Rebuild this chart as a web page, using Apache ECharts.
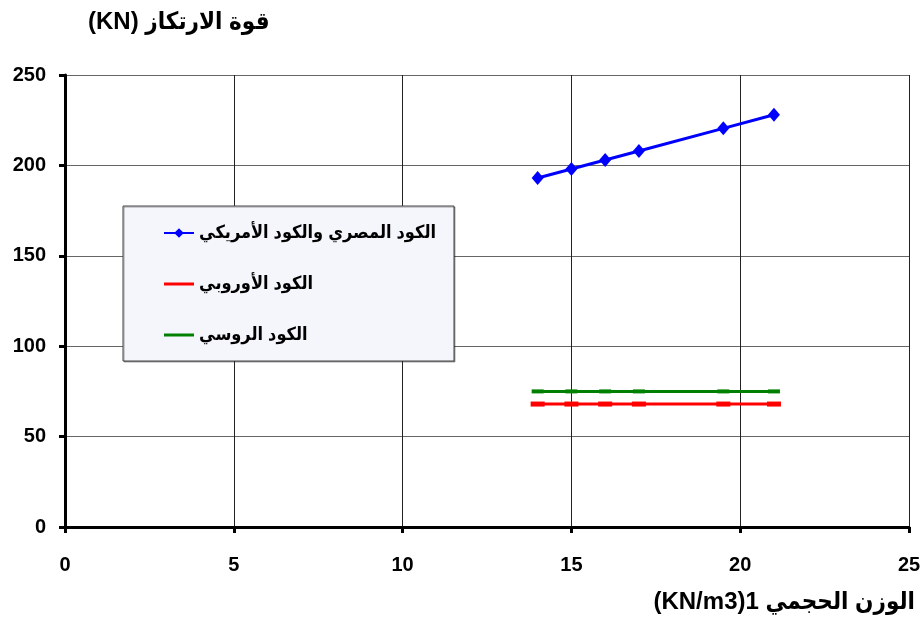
<!DOCTYPE html>
<html>
<head>
<meta charset="utf-8">
<script src="https://cdn.jsdelivr.net/npm/echarts@6/dist/echarts.min.js"></script>
<style>
  html, body { margin: 0; padding: 0; background: #ffffff; }
  #chart { width: 924px; height: 630px; }
</style>
</head>
<body>
<div id="chart"></div>
<script>
// Unit weight (KN/m3) on x, bearing force (KN) on y
const unitWeight = [14, 15, 16, 17, 19.5, 21];
const egyptianAmericanCode = [193, 198, 203, 208, 220.5, 228];
const europeanCode = [68, 68, 68, 68, 68, 68];
const russianCode = [75, 75, 75, 75, 75, 75];

const seriesNames = [
  'الكود المصري والكود الأمريكي',
  'الكود الأوروبي',
  'الكود الروسي'
];
const yTitle = '(KN) قوة الارتكاز';
const xTitle = '(KN/m3)1 الوزن الحجمي';

const FONT = '"Liberation Sans", "DejaVu Sans Condensed", "DejaVu Sans", Arial, sans-serif';
const flatIcon = 'path://M0,0 H30 V3 H0 Z';

const pairs = (vals) => unitWeight.map((x, i) => [x, vals[i]]);

const chart = echarts.init(document.getElementById('chart'), null, { renderer: 'canvas' });

chart.setOption({
  backgroundColor: '#ffffff',
  animation: false,
  textStyle: { fontFamily: FONT },
  title: [
    {
      text: yTitle,
      left: 88,
      top: 10,
      padding: 0,
      textStyle: { fontSize: 24, fontWeight: 'bold', color: '#000', fontFamily: FONT }
    },
    {
      text: xTitle,
      right: 9,
      top: 590,
      padding: 0,
      textStyle: { fontSize: 24, fontWeight: 'bold', color: '#000', fontFamily: FONT }
    }
  ],
  grid: { left: 65, right: 15, top: 75, bottom: 103, containLabel: false },
  xAxis: {
    type: 'value',
    min: 0,
    max: 25,
    interval: 5,
    axisLine: { show: true, onZero: false, lineStyle: { color: '#000', width: 3 } },
    axisTick: { show: true, inside: false, length: 6, lineStyle: { color: '#000', width: 3 } },
    axisLabel: { margin: 28, fontSize: 20, fontWeight: 'bold', color: '#000', fontFamily: FONT },
    splitLine: { show: true, lineStyle: { color: '#222', width: 1 } }
  },
  yAxis: {
    type: 'value',
    min: 0,
    max: 250,
    interval: 50,
    axisLine: { show: true, onZero: false, lineStyle: { color: '#000', width: 3 } },
    axisTick: { show: true, inside: false, length: 6, lineStyle: { color: '#000', width: 3 } },
    axisLabel: { margin: 19, fontSize: 20, fontWeight: 'bold', color: '#000', fontFamily: FONT },
    splitLine: { show: true, lineStyle: { color: '#666', width: 1 } }
  },
  legend: {
    orient: 'vertical',
    left: 123,
    top: 206,
    padding: [15, 18, 14, 40],
    itemGap: 27,
    itemWidth: 30,
    itemHeight: 12,
    backgroundColor: '#f4f6fb',
    borderColor: '#444',
    borderWidth: 1,
    shadowColor: 'rgba(0,0,0,0.35)',
    shadowOffsetX: 1,
    shadowOffsetY: 1,
    shadowBlur: 0,
    textStyle: {
      fontSize: 18,
      fontWeight: 'bold',
      color: '#000',
      fontFamily: FONT,
      lineHeight: 24
    },
    data: [
      { name: seriesNames[0] },
      { name: seriesNames[1], icon: flatIcon },
      { name: seriesNames[2], icon: flatIcon }
    ]
  },
  series: [
    {
      name: seriesNames[0],
      type: 'line',
      data: pairs(egyptianAmericanCode),
      symbol: 'diamond',
      symbolSize: [12, 14],
      lineStyle: { color: '#0000ff', width: 3 },
      itemStyle: { color: '#0000ff' }
    },
    {
      name: seriesNames[1],
      type: 'line',
      data: pairs(europeanCode),
      symbol: 'rect',
      symbolSize: [14, 5],
      lineStyle: { color: '#ff0000', width: 3 },
      itemStyle: { color: '#ff0000' }
    },
    {
      name: seriesNames[2],
      type: 'line',
      data: pairs(russianCode),
      symbol: 'rect',
      symbolSize: [12, 4],
      lineStyle: { color: '#008000', width: 3 },
      itemStyle: { color: '#008000' }
    }
  ]
});
</script>
</body>
</html>
